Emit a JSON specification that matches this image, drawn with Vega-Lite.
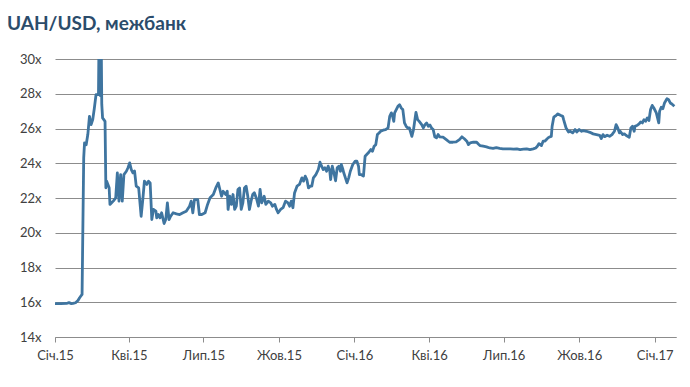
{
  "$schema": "https://vega.github.io/schema/vega-lite/v6.json",
  "width": 621,
  "height": 278,
  "autosize": {"type": "none"},
  "padding": {"left": 55, "top": 59, "right": 14, "bottom": 50},
  "background": "white",
  "title": {
    "text": "UAH/USD, межбанк",
    "anchor": "start",
    "frame": "group",
    "dx": -48,
    "offset": 19,
    "font": "Lato",
    "fontSize": 19,
    "fontWeight": "bold",
    "color": "#2b4c6b"
  },
  "config": {
    "view": {"stroke": null},
    "axis": {"labelFont": "Lato", "labelFontSize": 13, "labelColor": "#404040"}
  },
  "data": {
    "values": [
      {"d": "2015-01-01", "v": 15.92},
      {"d": "2015-01-08", "v": 15.92},
      {"d": "2015-01-15", "v": 15.93},
      {"d": "2015-01-18", "v": 15.98},
      {"d": "2015-01-21", "v": 15.92},
      {"d": "2015-01-23", "v": 15.93},
      {"d": "2015-01-26", "v": 15.97},
      {"d": "2015-01-29", "v": 16.1},
      {"d": "2015-01-31", "v": 16.26},
      {"d": "2015-02-03", "v": 16.45},
      {"d": "2015-02-05", "v": 24.31},
      {"d": "2015-02-06", "v": 25.17},
      {"d": "2015-02-08", "v": 25.07},
      {"d": "2015-02-10", "v": 25.65},
      {"d": "2015-02-12", "v": 26.7},
      {"d": "2015-02-14", "v": 26.22},
      {"d": "2015-02-16", "v": 26.51},
      {"d": "2015-02-18", "v": 27.18},
      {"d": "2015-02-20", "v": 27.95},
      {"d": "2015-02-23", "v": 27.95},
      {"d": "2015-02-24", "v": 33.0},
      {"d": "2015-02-25", "v": 27.9},
      {"d": "2015-02-26", "v": 33.0},
      {"d": "2015-02-27", "v": 27.4},
      {"d": "2015-02-28", "v": 26.61},
      {"d": "2015-03-03", "v": 26.41},
      {"d": "2015-03-04", "v": 22.59},
      {"d": "2015-03-05", "v": 22.97},
      {"d": "2015-03-08", "v": 22.59},
      {"d": "2015-03-09", "v": 21.63},
      {"d": "2015-03-13", "v": 21.82},
      {"d": "2015-03-16", "v": 22.01},
      {"d": "2015-03-18", "v": 23.45},
      {"d": "2015-03-20", "v": 21.82},
      {"d": "2015-03-22", "v": 23.35},
      {"d": "2015-03-24", "v": 21.82},
      {"d": "2015-03-26", "v": 23.35},
      {"d": "2015-03-29", "v": 23.54},
      {"d": "2015-03-31", "v": 23.74},
      {"d": "2015-04-02", "v": 24.02},
      {"d": "2015-04-04", "v": 23.64},
      {"d": "2015-04-06", "v": 23.45},
      {"d": "2015-04-08", "v": 23.55},
      {"d": "2015-04-10", "v": 22.68},
      {"d": "2015-04-13", "v": 22.58},
      {"d": "2015-04-16", "v": 20.95},
      {"d": "2015-04-18", "v": 21.9},
      {"d": "2015-04-20", "v": 22.97},
      {"d": "2015-04-23", "v": 22.78},
      {"d": "2015-04-25", "v": 22.97},
      {"d": "2015-04-27", "v": 22.87},
      {"d": "2015-04-29", "v": 20.76},
      {"d": "2015-05-01", "v": 21.34},
      {"d": "2015-05-04", "v": 21.24},
      {"d": "2015-05-05", "v": 20.86},
      {"d": "2015-05-07", "v": 21.05},
      {"d": "2015-05-09", "v": 20.86},
      {"d": "2015-05-11", "v": 21.15},
      {"d": "2015-05-14", "v": 20.53},
      {"d": "2015-05-16", "v": 20.76},
      {"d": "2015-05-18", "v": 21.72},
      {"d": "2015-05-20", "v": 20.76},
      {"d": "2015-05-22", "v": 20.95},
      {"d": "2015-05-25", "v": 21.15},
      {"d": "2015-05-29", "v": 21.09},
      {"d": "2015-06-02", "v": 21.05},
      {"d": "2015-06-06", "v": 21.15},
      {"d": "2015-06-10", "v": 21.24},
      {"d": "2015-06-14", "v": 21.53},
      {"d": "2015-06-16", "v": 21.82},
      {"d": "2015-06-18", "v": 21.15},
      {"d": "2015-06-20", "v": 21.91},
      {"d": "2015-06-24", "v": 21.91},
      {"d": "2015-06-26", "v": 21.05},
      {"d": "2015-06-29", "v": 21.05},
      {"d": "2015-07-03", "v": 21.15},
      {"d": "2015-07-06", "v": 21.63},
      {"d": "2015-07-09", "v": 22.01},
      {"d": "2015-07-13", "v": 22.2},
      {"d": "2015-07-16", "v": 22.58},
      {"d": "2015-07-19", "v": 22.87},
      {"d": "2015-07-21", "v": 22.49},
      {"d": "2015-07-23", "v": 22.1},
      {"d": "2015-07-25", "v": 22.39},
      {"d": "2015-07-28", "v": 22.2},
      {"d": "2015-07-30", "v": 22.39},
      {"d": "2015-07-31", "v": 21.34},
      {"d": "2015-08-02", "v": 22.1},
      {"d": "2015-08-04", "v": 21.63},
      {"d": "2015-08-06", "v": 22.2},
      {"d": "2015-08-08", "v": 21.34},
      {"d": "2015-08-10", "v": 21.53},
      {"d": "2015-08-12", "v": 22.49},
      {"d": "2015-08-14", "v": 22.58},
      {"d": "2015-08-16", "v": 21.34},
      {"d": "2015-08-18", "v": 21.72},
      {"d": "2015-08-20", "v": 22.58},
      {"d": "2015-08-22", "v": 22.68},
      {"d": "2015-08-24", "v": 22.1},
      {"d": "2015-08-26", "v": 21.34},
      {"d": "2015-08-28", "v": 21.82},
      {"d": "2015-08-30", "v": 22.2},
      {"d": "2015-09-01", "v": 22.3},
      {"d": "2015-09-04", "v": 21.91},
      {"d": "2015-09-06", "v": 21.53},
      {"d": "2015-09-08", "v": 22.5},
      {"d": "2015-09-10", "v": 21.72},
      {"d": "2015-09-13", "v": 22.1},
      {"d": "2015-09-15", "v": 21.63},
      {"d": "2015-09-18", "v": 21.82},
      {"d": "2015-09-21", "v": 21.72},
      {"d": "2015-09-23", "v": 21.53},
      {"d": "2015-09-26", "v": 21.63},
      {"d": "2015-09-28", "v": 21.34},
      {"d": "2015-09-30", "v": 21.15},
      {"d": "2015-10-03", "v": 21.34},
      {"d": "2015-10-06", "v": 21.44},
      {"d": "2015-10-09", "v": 21.82},
      {"d": "2015-10-12", "v": 21.72},
      {"d": "2015-10-14", "v": 21.53},
      {"d": "2015-10-16", "v": 21.82},
      {"d": "2015-10-18", "v": 21.44},
      {"d": "2015-10-20", "v": 22.29},
      {"d": "2015-10-23", "v": 22.68},
      {"d": "2015-10-26", "v": 22.78},
      {"d": "2015-10-29", "v": 23.16},
      {"d": "2015-10-31", "v": 22.97},
      {"d": "2015-11-02", "v": 23.26},
      {"d": "2015-11-04", "v": 23.06},
      {"d": "2015-11-06", "v": 22.58},
      {"d": "2015-11-08", "v": 22.68},
      {"d": "2015-11-10", "v": 22.68},
      {"d": "2015-11-12", "v": 23.16},
      {"d": "2015-11-15", "v": 23.35},
      {"d": "2015-11-18", "v": 23.64},
      {"d": "2015-11-20", "v": 24.06},
      {"d": "2015-11-22", "v": 23.83},
      {"d": "2015-11-24", "v": 23.64},
      {"d": "2015-11-26", "v": 23.74},
      {"d": "2015-11-28", "v": 23.54},
      {"d": "2015-11-30", "v": 23.83},
      {"d": "2015-12-02", "v": 23.54},
      {"d": "2015-12-03", "v": 23.06},
      {"d": "2015-12-05", "v": 23.83},
      {"d": "2015-12-07", "v": 23.45},
      {"d": "2015-12-09", "v": 22.99},
      {"d": "2015-12-11", "v": 23.74},
      {"d": "2015-12-13", "v": 23.83},
      {"d": "2015-12-15", "v": 23.54},
      {"d": "2015-12-16", "v": 23.93},
      {"d": "2015-12-18", "v": 23.64},
      {"d": "2015-12-19", "v": 23.45},
      {"d": "2015-12-21", "v": 23.16},
      {"d": "2015-12-23", "v": 22.87},
      {"d": "2015-12-25", "v": 23.16},
      {"d": "2015-12-27", "v": 23.54},
      {"d": "2015-12-30", "v": 23.93},
      {"d": "2016-01-02", "v": 24.12},
      {"d": "2016-01-04", "v": 24.12},
      {"d": "2016-01-06", "v": 23.83},
      {"d": "2016-01-07", "v": 23.35},
      {"d": "2016-01-09", "v": 23.35},
      {"d": "2016-01-12", "v": 23.26},
      {"d": "2016-01-14", "v": 24.4},
      {"d": "2016-01-16", "v": 24.5},
      {"d": "2016-01-18", "v": 24.6},
      {"d": "2016-01-21", "v": 24.79},
      {"d": "2016-01-23", "v": 24.69},
      {"d": "2016-01-25", "v": 24.98},
      {"d": "2016-01-27", "v": 25.07},
      {"d": "2016-01-29", "v": 25.65},
      {"d": "2016-01-31", "v": 25.74},
      {"d": "2016-02-02", "v": 25.84},
      {"d": "2016-02-05", "v": 25.9},
      {"d": "2016-02-08", "v": 25.93},
      {"d": "2016-02-11", "v": 26.03},
      {"d": "2016-02-13", "v": 26.7},
      {"d": "2016-02-15", "v": 26.9},
      {"d": "2016-02-16", "v": 26.8},
      {"d": "2016-02-18", "v": 26.41},
      {"d": "2016-02-19", "v": 26.9},
      {"d": "2016-02-21", "v": 27.09},
      {"d": "2016-02-23", "v": 27.28},
      {"d": "2016-02-25", "v": 27.37},
      {"d": "2016-02-27", "v": 27.18},
      {"d": "2016-02-29", "v": 27.09},
      {"d": "2016-03-02", "v": 26.32},
      {"d": "2016-03-04", "v": 26.13},
      {"d": "2016-03-06", "v": 26.03},
      {"d": "2016-03-08", "v": 26.03},
      {"d": "2016-03-11", "v": 25.55},
      {"d": "2016-03-13", "v": 25.93},
      {"d": "2016-03-15", "v": 26.6},
      {"d": "2016-03-16", "v": 26.93},
      {"d": "2016-03-18", "v": 26.51},
      {"d": "2016-03-20", "v": 26.41},
      {"d": "2016-03-23", "v": 26.22},
      {"d": "2016-03-25", "v": 26.03},
      {"d": "2016-03-27", "v": 26.22},
      {"d": "2016-03-29", "v": 26.32},
      {"d": "2016-03-31", "v": 26.13},
      {"d": "2016-04-02", "v": 26.2},
      {"d": "2016-04-04", "v": 26.03},
      {"d": "2016-04-06", "v": 25.94},
      {"d": "2016-04-08", "v": 25.52},
      {"d": "2016-04-10", "v": 25.46},
      {"d": "2016-04-12", "v": 25.65},
      {"d": "2016-04-14", "v": 25.52},
      {"d": "2016-04-18", "v": 25.5},
      {"d": "2016-04-22", "v": 25.36},
      {"d": "2016-04-26", "v": 25.21},
      {"d": "2016-04-30", "v": 25.21},
      {"d": "2016-05-04", "v": 25.23},
      {"d": "2016-05-08", "v": 25.36},
      {"d": "2016-05-11", "v": 25.52},
      {"d": "2016-05-14", "v": 25.41},
      {"d": "2016-05-17", "v": 25.27},
      {"d": "2016-05-19", "v": 25.07},
      {"d": "2016-05-21", "v": 25.17},
      {"d": "2016-05-25", "v": 25.21},
      {"d": "2016-05-29", "v": 25.21},
      {"d": "2016-05-31", "v": 25.11},
      {"d": "2016-06-02", "v": 25.02},
      {"d": "2016-06-06", "v": 24.98},
      {"d": "2016-06-10", "v": 24.94},
      {"d": "2016-06-14", "v": 24.88},
      {"d": "2016-06-18", "v": 24.86},
      {"d": "2016-06-22", "v": 24.9},
      {"d": "2016-06-26", "v": 24.86},
      {"d": "2016-06-30", "v": 24.83},
      {"d": "2016-07-04", "v": 24.83},
      {"d": "2016-07-09", "v": 24.83},
      {"d": "2016-07-13", "v": 24.81},
      {"d": "2016-07-17", "v": 24.83},
      {"d": "2016-07-21", "v": 24.79},
      {"d": "2016-07-25", "v": 24.81},
      {"d": "2016-07-29", "v": 24.83},
      {"d": "2016-08-02", "v": 24.79},
      {"d": "2016-08-06", "v": 24.83},
      {"d": "2016-08-09", "v": 24.88},
      {"d": "2016-08-11", "v": 24.98},
      {"d": "2016-08-13", "v": 25.13},
      {"d": "2016-08-16", "v": 25.02},
      {"d": "2016-08-18", "v": 25.27},
      {"d": "2016-08-20", "v": 25.27},
      {"d": "2016-08-22", "v": 25.36},
      {"d": "2016-08-24", "v": 25.46},
      {"d": "2016-08-26", "v": 25.52},
      {"d": "2016-08-28", "v": 25.55},
      {"d": "2016-08-29", "v": 26.13},
      {"d": "2016-08-31", "v": 26.65},
      {"d": "2016-09-03", "v": 26.76},
      {"d": "2016-09-05", "v": 26.84},
      {"d": "2016-09-08", "v": 26.76},
      {"d": "2016-09-11", "v": 26.7},
      {"d": "2016-09-12", "v": 26.51},
      {"d": "2016-09-15", "v": 26.03},
      {"d": "2016-09-18", "v": 25.8},
      {"d": "2016-09-20", "v": 25.84},
      {"d": "2016-09-23", "v": 25.75},
      {"d": "2016-09-26", "v": 25.94},
      {"d": "2016-09-28", "v": 25.8},
      {"d": "2016-10-01", "v": 25.94},
      {"d": "2016-10-04", "v": 25.84},
      {"d": "2016-10-06", "v": 25.88},
      {"d": "2016-10-10", "v": 25.84},
      {"d": "2016-10-14", "v": 25.78},
      {"d": "2016-10-18", "v": 25.69},
      {"d": "2016-10-22", "v": 25.65},
      {"d": "2016-10-26", "v": 25.61},
      {"d": "2016-10-28", "v": 25.42},
      {"d": "2016-10-30", "v": 25.65},
      {"d": "2016-11-01", "v": 25.53},
      {"d": "2016-11-04", "v": 25.61},
      {"d": "2016-11-07", "v": 25.55},
      {"d": "2016-11-10", "v": 25.65},
      {"d": "2016-11-13", "v": 25.84},
      {"d": "2016-11-15", "v": 26.22},
      {"d": "2016-11-17", "v": 26.03},
      {"d": "2016-11-19", "v": 25.75},
      {"d": "2016-11-20", "v": 25.84},
      {"d": "2016-11-23", "v": 25.65},
      {"d": "2016-11-25", "v": 25.69},
      {"d": "2016-11-27", "v": 25.61},
      {"d": "2016-11-29", "v": 25.55},
      {"d": "2016-12-01", "v": 25.49},
      {"d": "2016-12-03", "v": 26.03},
      {"d": "2016-12-05", "v": 26.13},
      {"d": "2016-12-07", "v": 25.84},
      {"d": "2016-12-08", "v": 26.13},
      {"d": "2016-12-11", "v": 26.19},
      {"d": "2016-12-13", "v": 26.26},
      {"d": "2016-12-15", "v": 26.38},
      {"d": "2016-12-17", "v": 26.32},
      {"d": "2016-12-19", "v": 26.51},
      {"d": "2016-12-21", "v": 26.42},
      {"d": "2016-12-23", "v": 26.61},
      {"d": "2016-12-25", "v": 26.46},
      {"d": "2016-12-27", "v": 27.09},
      {"d": "2016-12-29", "v": 27.33},
      {"d": "2016-12-31", "v": 27.18},
      {"d": "2017-01-03", "v": 26.9},
      {"d": "2017-01-05", "v": 26.51},
      {"d": "2017-01-06", "v": 26.32},
      {"d": "2017-01-07", "v": 26.99},
      {"d": "2017-01-09", "v": 27.22},
      {"d": "2017-01-11", "v": 27.14},
      {"d": "2017-01-13", "v": 27.47},
      {"d": "2017-01-16", "v": 27.72},
      {"d": "2017-01-18", "v": 27.66},
      {"d": "2017-01-20", "v": 27.47},
      {"d": "2017-01-22", "v": 27.41},
      {"d": "2017-01-25", "v": 27.28}
    ]
  },
  "mark": {"type": "line", "color": "#3f75a0", "strokeWidth": 2.8, "clip": true, "strokeJoin": "round"},
  "encoding": {
    "x": {
      "field": "d",
      "type": "temporal",
      "scale": {
        "type": "utc",
        "domain": [
          {"year": 2015, "month": 1, "date": 1, "utc": true},
          {"year": 2017, "month": 1, "date": 27, "utc": true}
        ],
        "nice": false
      },
      "axis": {
        "title": null,
        "values": [
          {"year": 2015, "month": 1, "date": 1, "utc": true},
          {"year": 2015, "month": 4, "date": 1, "utc": true},
          {"year": 2015, "month": 7, "date": 1, "utc": true},
          {"year": 2015, "month": 10, "date": 1, "utc": true},
          {"year": 2016, "month": 1, "date": 1, "utc": true},
          {"year": 2016, "month": 4, "date": 1, "utc": true},
          {"year": 2016, "month": 7, "date": 1, "utc": true},
          {"year": 2016, "month": 10, "date": 1, "utc": true},
          {"year": 2017, "month": 1, "date": 1, "utc": true}
        ],
        "labelExpr": "['Січ','Лют','Бер','Кві','Тра','Чер','Лип','Сер','Вер','Жов','Лис','Гру'][utcmonth(datum.value)] + '.' + utcFormat(datum.value, '%y')",
        "domainColor": "#8c8c8c",
        "tickColor": "#8c8c8c",
        "tickSize": 5,
        "labelPadding": 7,
        "grid": false,
        "labelFlush": false,
        "labelOverlap": false
      }
    },
    "y": {
      "field": "v",
      "type": "quantitative",
      "scale": {"domain": [14, 30], "nice": false, "zero": false},
      "axis": {
        "title": null,
        "values": [14, 16, 18, 20, 22, 24, 26, 28, 30],
        "labelExpr": "datum.value + 'x'",
        "domain": false,
        "ticks": false,
        "labelPadding": 14,
        "grid": true,
        "gridColor": "#8c8c8c",
        "gridWidth": 1
      }
    }
  }
}
